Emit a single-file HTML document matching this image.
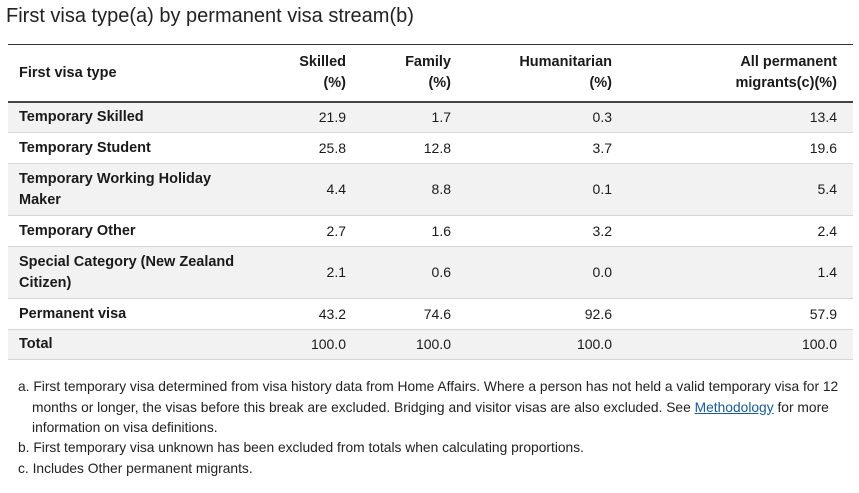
<!DOCTYPE html>
<html><head><meta charset="utf-8">
<style>
body{margin:0;width:859px;height:493px;background:#fff;font-family:"Liberation Sans",sans-serif;color:#1a1a1a;position:relative;overflow:hidden}
.a{position:absolute}
.title{left:6px;top:5px;font-size:20px;color:#222}
.hl{font-weight:bold;font-size:14.5px;line-height:21px;text-align:right}
.row{left:8px;width:845px;border-bottom:1px solid #d6d6d6}
.cell{font-size:14px;line-height:20.5px}
.lab{font-weight:bold;font-size:14.5px;left:19px;width:250px}
.num{text-align:right}
.fn{left:18px;width:830px;font-size:13.8px;line-height:20.5px;color:#222;padding-left:14px;text-indent:-14px;box-sizing:border-box}
a{color:#1a5a96}
</style></head><body>
<div class="a title">First visa type(a) by permanent visa stream(b)</div>
<div class="a" style="left:8px;top:44px;width:845px;height:1px;background:#333"></div>
<div class="a hl" style="left:19px;top:63px;text-align:left">First visa type</div>
<div class="a hl" style="left:246px;width:100px;top:52px">Skilled<br>(%)</div>
<div class="a hl" style="left:351px;width:100px;top:52px">Family<br>(%)</div>
<div class="a hl" style="left:462px;width:150px;top:52px">Humanitarian<br>(%)</div>
<div class="a hl" style="left:637px;width:200px;top:52px">All permanent<br>migrants(c)(%)</div>
<div class="a" style="left:8px;top:101px;width:845px;height:2px;background:#444"></div>
<div id="rows"></div>
<div class="a fn" style="top:377px">a. First temporary visa determined from visa history data from Home Affairs. Where a person has not held a valid temporary visa for 12 months or longer, the visas before this break are excluded. Bridging and visitor visas are also excluded. See <a href="#">Methodology</a> for more information on visa definitions.</div>
<div class="a fn" style="top:438px">b. First temporary visa unknown has been excluded from totals when calculating proportions.</div>
<div class="a fn" style="top:459px">c. Includes Other permanent migrants.</div>
<script>
const labels=["Temporary Skilled","Temporary Student","Temporary Working Holiday<br>Maker","Temporary Other","Special Category (New Zealand<br>Citizen)","Permanent visa","Total"];
const skilled=["21.9","25.8","4.4","2.7","2.1","43.2","100.0"];
const family=["1.7","12.8","8.8","1.6","0.6","74.6","100.0"];
const humanitarian=["0.3","3.7","0.1","3.2","0.0","92.6","100.0"];
const allPerm=["13.4","19.6","5.4","2.4","1.4","57.9","100.0"];
const heights=[30,31,52,31,52,31,30];
const cols=[[skilled,246,100],[family,351,100],[humanitarian,462,150],[allPerm,637,200]];
const c=document.getElementById('rows');
let y=103;
labels.forEach((l,i)=>{
  const h=heights[i];
  const r=document.createElement('div');
  r.className='a row';
  
  
  r.style.top=y+'px';r.style.height=(h-1)+'px';
  r.style.background=i%2===0?'#f2f2f2':'#fff';
  c.appendChild(r);
  const lab=document.createElement('div');
  lab.className='a cell lab';
  
  
  lab.innerHTML=l;
  const lines=l.includes('<br>')?2:1;
  lab.style.top=(y+(h-1-lines*20.5)/2)+'px';
  c.appendChild(lab);
  cols.forEach(([arr,x,w])=>{
    const d=document.createElement('div');
    d.className='a cell num';
    
    
    d.textContent=arr[i];
    d.style.left=x+'px';d.style.width=w+'px';
    d.style.top=(y+(h-1-20.5)/2)+'px';
    c.appendChild(d);
  });
  y+=h;
});
</script>
</body></html>
